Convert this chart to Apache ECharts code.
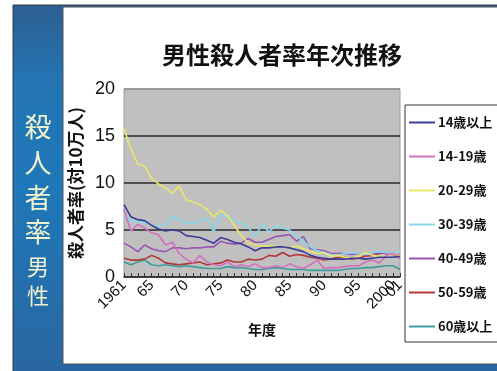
<!DOCTYPE html>
<html>
<head>
<meta charset="utf-8">
<script src="https://cdn.jsdelivr.net/npm/echarts@6/dist/echarts.min.js"></script>
<style>
  html, body { margin: 0; padding: 0; background: #ffffff; }
  #chart { width: 497px; height: 371px; }
</style>
</head>
<body>
<div id="chart"></div>
<script>
// Years 1961–2001
const years = [];
for (let y = 1961; y <= 2001; y++) years.push(String(y));

// Which years get a label, and how each label is written
const labeledYears = ['1961', '1965', '1970', '1975', '1980', '1985', '1990', '1995', '2000', '2001'];
const yearLabelText = { '1961': '1961', '2000': '2000', '2001': '01' };

const seriesNames = ['14歳以上', '14-19歳', '20-29歳', '30-39歳', '40-49歳', '50-59歳', '60歳以上'];

// Male homicide offender rate per 100,000 by age group
const age14plus = [7.7, 6.4, 6.1, 6.0, 5.5, 5.1, 4.9, 5.0, 4.9, 4.4, 4.3, 4.2, 3.9, 3.6, 4.2, 4.0, 3.7, 3.5, 3.2, 2.8, 3.1, 3.1, 3.2, 3.2, 3.1, 2.9, 2.7, 2.3, 2.1, 2.0, 1.9, 1.9, 1.9, 2.0, 2.0, 1.9, 2.0, 2.1, 2.1, 2.1, 2.2];
const age14to19 = [7.2, 4.9, 5.6, 5.2, 4.7, 4.5, 3.4, 3.7, 2.5, 1.9, 1.5, 2.3, 1.6, 1.3, 1.2, 1.6, 1.1, 1.3, 1.1, 1.4, 1.0, 1.0, 1.2, 1.0, 1.4, 1.1, 0.9, 1.3, 1.8, 0.9, 1.0, 1.0, 1.1, 1.2, 1.2, 1.6, 1.8, 1.5, 2.3, 2.5, 2.0];
const age20to29 = [15.8, 13.6, 12.0, 11.8, 10.5, 9.9, 9.5, 8.9, 9.7, 8.2, 8.0, 7.7, 7.2, 6.4, 7.1, 6.5, 5.5, 4.4, 3.6, 3.4, 3.3, 3.3, 3.3, 3.2, 3.1, 3.3, 3.0, 2.7, 2.5, 2.6, 2.2, 2.3, 2.1, 2.0, 2.2, 2.6, 2.3, 2.2, 2.2, 2.4, 2.3];
const age30to39 = [6.5, 6.0, 5.9, 5.8, 5.5, 5.4, 5.6, 6.4, 6.1, 5.8, 5.7, 6.0, 6.2, 4.8, 6.6, 6.4, 6.0, 5.7, 5.3, 4.3, 5.6, 4.8, 5.5, 5.2, 5.0, 4.4, 3.8, 3.2, 2.8, 2.6, 2.4, 2.3, 2.5, 2.6, 2.5, 2.4, 2.6, 2.7, 2.6, 2.5, 2.7];
const age40to49 = [3.6, 3.2, 2.7, 3.4, 3.0, 2.8, 2.7, 3.1, 3.1, 3.0, 3.1, 3.1, 3.2, 3.2, 3.8, 3.6, 3.5, 3.6, 4.1, 3.7, 3.7, 4.0, 4.3, 4.4, 4.5, 3.8, 4.3, 3.0, 2.9, 2.8, 2.5, 2.5, 2.5, 2.4, 2.5, 2.3, 2.4, 2.6, 2.5, 2.3, 2.0];
const age50to59 = [2.0, 1.8, 1.8, 1.9, 2.3, 2.0, 1.5, 1.4, 1.3, 1.4, 1.5, 1.6, 1.3, 1.4, 1.5, 1.8, 1.6, 1.6, 1.9, 1.8, 1.9, 2.3, 2.2, 2.6, 2.2, 2.4, 2.3, 2.1, 2.0, 1.8, 1.9, 2.1, 2.1, 1.9, 2.0, 2.2, 2.3, 2.5, 2.6, 2.4, 2.4];
const age60plus = [1.6, 1.3, 1.6, 1.8, 1.3, 1.2, 1.3, 1.2, 1.1, 1.2, 1.1, 1.0, 0.9, 0.9, 0.9, 1.1, 1.0, 1.0, 0.9, 0.8, 0.8, 0.9, 1.0, 0.9, 0.8, 0.8, 0.8, 0.7, 0.7, 0.7, 0.7, 0.7, 0.8, 0.9, 0.9, 1.0, 1.0, 1.1, 1.2, 1.2, 0.8];

const seriesValues = [age14plus, age14to19, age20to29, age30to39, age40to49, age50to59, age60plus];
const seriesColors = ['#3b3c96', '#d46fc2', '#e9e768', '#86d9ea', '#9a55b4', '#b2383a', '#3c9e9c'];

const cjk = '"Noto Sans CJK JP", "Noto Sans CJK SC", sans-serif';
const latin = '"Liberation Sans", Arial, sans-serif';

const chart = echarts.init(document.getElementById('chart'), null, { renderer: 'canvas' });

const sideText = [
  { t: '殺', y: 127, s: 27 },
  { t: '人', y: 163, s: 27 },
  { t: '者', y: 198, s: 27 },
  { t: '率', y: 232, s: 27 },
  { t: '男', y: 267, s: 22 },
  { t: '性', y: 296, s: 22 }
];

chart.setOption({
  animation: false,
  backgroundColor: '#ffffff',
  graphic: [
    // blue frame around the slide
    {
      type: 'rect', z: -10, silent: true,
      shape: { x: 13, y: 5, width: 490, height: 370 },
      style: {
        fill: new echarts.graphic.LinearGradient(0, 0, 0, 1, [
          { offset: 0, color: '#2d5f91' },
          { offset: 0.2, color: '#2474b3' },
          { offset: 0.5, color: '#1f78b9' },
          { offset: 1, color: '#2a66a0' }
        ]),
        stroke: '#3a3a3a', lineWidth: 1
      }
    },
    // white slide body
    {
      type: 'rect', z: -9, silent: true,
      shape: { x: 63, y: 7, width: 440, height: 357 },
      style: { fill: '#ffffff', stroke: '#555555', lineWidth: 1 }
    },
    ...sideText.map(c => ({
      type: 'text', z: 5, silent: true,
      x: 38, y: c.y,
      style: {
        text: c.t, fill: '#eef2cf', font: 'normal ' + c.s + 'px ' + cjk,
        align: 'center', verticalAlign: 'middle'
      }
    }))
  ],
  title: {
    text: '男性殺人者率年次推移',
    left: 277, top: 38, textAlign: 'center',
    textStyle: { fontFamily: cjk, fontSize: 24, fontWeight: 'bold', color: '#111111' }
  },
  legend: {
    orient: 'vertical',
    left: 405, top: 105,
    padding: [11, 20, 9, 3],
    itemWidth: 26, itemHeight: 14, itemGap: 21,
    backgroundColor: '#ffffff',
    borderColor: '#333333', borderWidth: 1, borderRadius: 0,
    itemStyle: { opacity: 0 },
    data: seriesNames,
    textStyle: { fontFamily: cjk, fontSize: 13, fontWeight: 'bold', color: '#111111', padding: [0, 0, 0, -2] }
  },
  grid: {
    left: 124, right: 97, top: 89, bottom: 94,
    show: true, backgroundColor: '#c0c0c0', borderColor: '#a0a0a0', borderWidth: 1
  },
  xAxis: {
    type: 'category',
    data: years,
    boundaryGap: false,
    name: '年度',
    nameLocation: 'middle',
    nameGap: 46,
    nameTextStyle: { fontFamily: cjk, fontSize: 14, fontWeight: 'bold', color: '#111111' },
    axisLine: { lineStyle: { color: '#333333', width: 1.5 } },
    axisTick: { show: true, inside: true, length: 4, interval: 0, lineStyle: { color: '#333333' } },
    axisLabel: {
      rotate: 45,
      margin: 6,
      interval: 0,
      hideOverlap: false,
      formatter: v => labeledYears.includes(v) ? (yearLabelText[v] || v.slice(2)) : '',
      fontFamily: latin, fontSize: 15, color: '#111111'
    },
    splitLine: { show: false }
  },
  yAxis: {
    type: 'value',
    min: 0, max: 20, interval: 5,
    name: '殺人者率(対10万人)',
    nameLocation: 'middle',
    nameRotate: 90,
    nameGap: 33,
    nameTextStyle: { fontFamily: cjk, fontSize: 17, fontWeight: 'bold', color: '#111111' },
    axisLine: { show: false },
    axisTick: { show: false },
    axisLabel: { fontFamily: latin, fontSize: 18, color: '#111111', margin: 9 },
    splitLine: { lineStyle: { color: ['#333333', '#2a2a2a', '#2a2a2a', '#2a2a2a', '#8a8a8a'], width: 1.5 } }
  },
  series: seriesNames.map((name, i) => ({
    name,
    type: 'line',
    data: seriesValues[i],
    symbol: 'none',
    color: seriesColors[i],
    lineStyle: { width: 1.6, color: seriesColors[i] },
    z: 10 - i
  }))
});
</script>
</body>
</html>
